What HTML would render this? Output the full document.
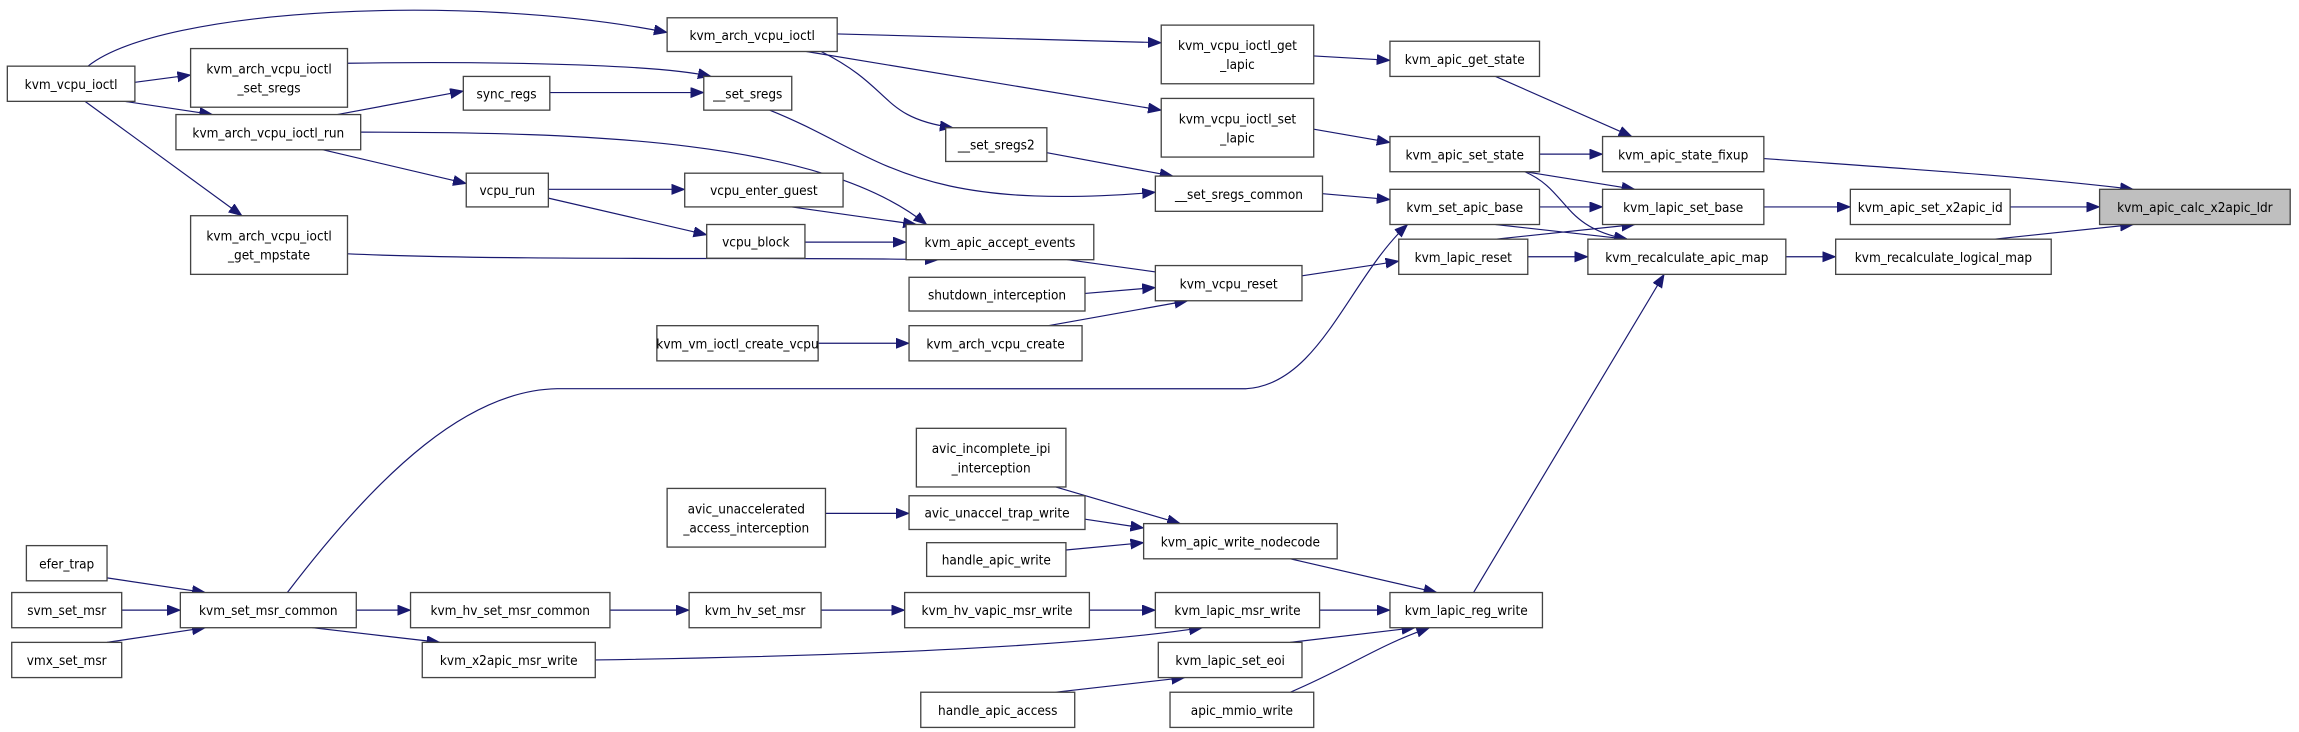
<!DOCTYPE html>
<html><head><meta charset="utf-8"><style>
html,body{margin:0;padding:0;background:#fff;}
svg{display:block;}
text{font-family:"DejaVu Sans Condensed","Liberation Sans Narrow","Liberation Sans",sans-serif;font-size:9.2px;fill:#000;text-anchor:middle;}
rect{fill:#fff;stroke:#444;stroke-width:0.9;}
path{fill:none;stroke:#191970;stroke-width:0.8;marker-end:url(#a);}
</style></head><body>
<svg width="2299" height="732" viewBox="0 0 1568 499" xmlns="http://www.w3.org/2000/svg">
<defs><marker id="a" markerUnits="userSpaceOnUse" markerWidth="10" markerHeight="8" refX="9" refY="3.5" orient="auto"><path d="M0,0 L9,3.5 L0,7 z" style="fill:#191970;stroke:#191970;stroke-width:0.5;marker-end:none"/></marker></defs>

<path d="M60,45 C110,5 320,-5 455,22"/>
<path d="M92,56 L130,51"/>
<path d="M85,69 L145,78"/>
<path d="M58,69 L165,147"/>
<path d="M237,43 C300,42 440,42 485,52"/>
<path d="M230,78 L316,62"/>
<path d="M375,63 L480,63"/>
<path d="M220,102 L318,125"/>
<path d="M246,90 C400,90 560,95 632,153"/>
<path d="M237,173 C350,178 550,175 640,177"/>
<path d="M374,129 L467,129"/>
<path d="M374,135 L482,160"/>
<path d="M540,141 L625,153"/>
<path d="M549,165 L618,165"/>
<path d="M571,23 L792,29"/>
<path d="M550,35 L792,75"/>
<path d="M560,35 C610,60 600,80 650,87"/>
<path d="M525,75 C600,105 620,145 788,131"/>
<path d="M714,104 L800,120"/>
<path d="M896,38 L948,41"/>
<path d="M896,88 L948,97"/>
<path d="M902,132 L948,136"/>
<path d="M728,177 L800,187"/>
<path d="M740,200 L788,196"/>
<path d="M558,234 L620,234"/>
<path d="M715,222 L810,205"/>
<path d="M888,188 L954,178"/>
<path d="M1020,52 L1113,93"/>
<path d="M1050,105 L1093,105"/>
<path d="M1040,117 L1115,129"/>
<path d="M1040,117 C1070,130 1065,155 1110,163"/>
<path d="M1050,141 L1093,141"/>
<path d="M1020,153 L1110,163"/>
<path d="M1020,163 L1115,153"/>
<path d="M1042,175 L1083,175"/>
<path d="M1203,108 C1300,115 1380,120 1455,129"/>
<path d="M1203,141 L1262,141"/>
<path d="M1371,141 L1432,141"/>
<path d="M1218,175 L1252,175"/>
<path d="M1360,163 L1455,153"/>
<path d="M196,404 C260,320 320,266 380,265 L850,265 C900,262 920,190 960,153"/>
<path d="M73,394 L140,404"/>
<path d="M83,416 L123,416"/>
<path d="M73,438 L140,428"/>
<path d="M243,416 L280,416"/>
<path d="M416,416 L470,416"/>
<path d="M560,416 L617,416"/>
<path d="M743,416 L788,416"/>
<path d="M900,416 L948,416"/>
<path d="M213,428 L300,438"/>
<path d="M406,450 C600,447 740,440 820,428"/>
<path d="M720,332 L805,357"/>
<path d="M563,350 L620,350"/>
<path d="M740,354 L780,360"/>
<path d="M727,375 L780,370"/>
<path d="M880,381 L980,404"/>
<path d="M880,438 L965,428"/>
<path d="M720,472 L808,462"/>
<path d="M880,472 C920,455 940,440 975,428"/>
<path d="M1005,404 L1135,187"/>

<rect x="5" y="45" width="87" height="24"/><text x="48.5" y="60.5">kvm_vcpu_ioctl</text>
<rect x="130" y="33" width="107" height="40"/><text x="183.5" y="50">kvm_arch_vcpu_ioctl</text><text x="183.5" y="63">_set_sregs</text>
<rect x="120" y="78" width="126" height="24"/><text x="183" y="93.5">kvm_arch_vcpu_ioctl_run</text>
<rect x="130" y="147" width="107" height="40"/><text x="183.5" y="164">kvm_arch_vcpu_ioctl</text><text x="183.5" y="177">_get_mpstate</text>
<rect x="455" y="12" width="116" height="23"/><text x="513" y="27">kvm_arch_vcpu_ioctl</text>
<rect x="316" y="52" width="59" height="23"/><text x="345.5" y="67">sync_regs</text>
<rect x="480" y="52" width="60" height="23"/><text x="510" y="67">__set_sregs</text>
<rect x="318" y="118" width="56" height="23"/><text x="346" y="133">vcpu_run</text>
<rect x="467" y="118" width="108" height="23"/><text x="521" y="133">vcpu_enter_guest</text>
<rect x="482" y="153" width="67" height="23"/><text x="515.5" y="168">vcpu_block</text>
<rect x="645" y="87" width="69" height="23"/><text x="679.5" y="102">__set_sregs2</text>
<rect x="792" y="17" width="104" height="40"/><text x="844" y="34">kvm_vcpu_ioctl_get</text><text x="844" y="47">_lapic</text>
<rect x="792" y="67" width="104" height="40"/><text x="844" y="84">kvm_vcpu_ioctl_set</text><text x="844" y="97">_lapic</text>
<rect x="948" y="28" width="102" height="24"/><text x="999" y="43.5">kvm_apic_get_state</text>
<rect x="948" y="93" width="102" height="24"/><text x="999" y="108.5">kvm_apic_set_state</text>
<rect x="788" y="120" width="114" height="24"/><text x="845" y="135.5">__set_sregs_common</text>
<rect x="948" y="129" width="102" height="24"/><text x="999" y="144.5">kvm_set_apic_base</text>
<rect x="618" y="153" width="128" height="24"/><text x="682" y="168.5">kvm_apic_accept_events</text>
<rect x="788" y="181" width="100" height="24"/><text x="838" y="196.5">kvm_vcpu_reset</text>
<rect x="620" y="189" width="120" height="23"/><text x="680" y="204">shutdown_interception</text>
<rect x="448" y="222" width="110" height="24"/><text x="503" y="237.5">kvm_vm_ioctl_create_vcpu</text>
<rect x="620" y="222" width="118" height="24"/><text x="679" y="237.5">kvm_arch_vcpu_create</text>
<rect x="954" y="163" width="88" height="24"/><text x="998" y="178.5">kvm_lapic_reset</text>
<rect x="1093" y="93" width="110" height="24"/><text x="1148" y="108.5">kvm_apic_state_fixup</text>
<rect x="1093" y="129" width="110" height="24"/><text x="1148" y="144.5">kvm_lapic_set_base</text>
<rect x="1083" y="163" width="135" height="24"/><text x="1150.5" y="178.5">kvm_recalculate_apic_map</text>
<rect x="1262" y="129" width="109" height="24"/><text x="1316.5" y="144.5">kvm_apic_set_x2apic_id</text>
<rect x="1252" y="163" width="147" height="24"/><text x="1325.5" y="178.5">kvm_recalculate_logical_map</text>
<rect x="1432" y="129" width="130" height="24" style="fill:#bfbfbf"/><text x="1497" y="144.5">kvm_apic_calc_x2apic_ldr</text>
<rect x="625" y="292" width="102" height="40"/><text x="676" y="309">avic_incomplete_ipi</text><text x="676" y="322">_interception</text>
<rect x="455" y="333" width="108" height="40"/><text x="509" y="350">avic_unaccelerated</text><text x="509" y="363">_access_interception</text>
<rect x="620" y="338" width="120" height="23"/><text x="680" y="353">avic_unaccel_trap_write</text>
<rect x="780" y="357" width="132" height="24"/><text x="846" y="372.5">kvm_apic_write_nodecode</text>
<rect x="632" y="370" width="95" height="23"/><text x="679.5" y="385">handle_apic_write</text>
<rect x="18" y="372" width="55" height="24"/><text x="45.5" y="387.5">efer_trap</text>
<rect x="8" y="404" width="75" height="24"/><text x="45.5" y="419.5">svm_set_msr</text>
<rect x="8" y="438" width="75" height="24"/><text x="45.5" y="453.5">vmx_set_msr</text>
<rect x="123" y="404" width="120" height="24"/><text x="183" y="419.5">kvm_set_msr_common</text>
<rect x="280" y="404" width="136" height="24"/><text x="348" y="419.5">kvm_hv_set_msr_common</text>
<rect x="470" y="404" width="90" height="24"/><text x="515" y="419.5">kvm_hv_set_msr</text>
<rect x="617" y="404" width="126" height="24"/><text x="680" y="419.5">kvm_hv_vapic_msr_write</text>
<rect x="788" y="404" width="112" height="24"/><text x="844" y="419.5">kvm_lapic_msr_write</text>
<rect x="948" y="404" width="104" height="24"/><text x="1000" y="419.5">kvm_lapic_reg_write</text>
<rect x="288" y="438" width="118" height="24"/><text x="347" y="453.5">kvm_x2apic_msr_write</text>
<rect x="790" y="438" width="98" height="24"/><text x="839" y="453.5">kvm_lapic_set_eoi</text>
<rect x="628" y="472" width="105" height="24"/><text x="680.5" y="487.5">handle_apic_access</text>
<rect x="798" y="472" width="98" height="24"/><text x="847" y="487.5">apic_mmio_write</text>
</svg>
</body></html>
